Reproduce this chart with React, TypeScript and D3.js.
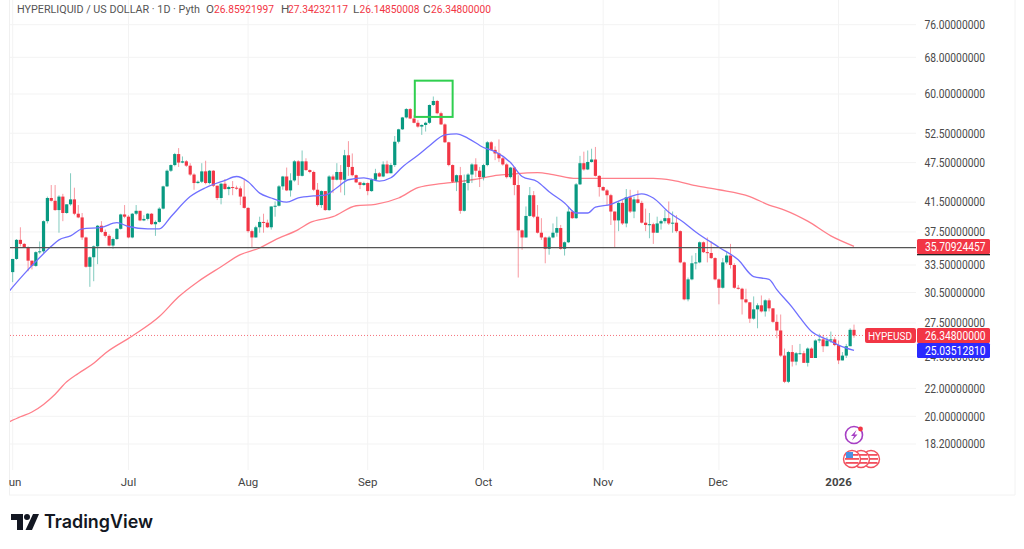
import React from "react";
import * as d3 from "d3";

const firstOpen = 32.7;
const closes = [34.2,36.5,36.0,35.6,34.0,33.4,35.0,35.1,38.9,42.1,41.7,40.4,42.3,40.0,41.2,41.9,39.9,39.4,36.8,33.3,34.4,35.7,38.3,37.5,37.0,35.8,36.6,37.9,39.8,39.5,36.8,39.9,40.3,39.0,39.2,39.9,38.5,38.8,40.6,43.8,46.2,47.1,48.9,47.5,47.7,47.0,45.6,44.3,44.5,46.1,44.3,46.2,43.9,42.1,44.2,43.4,43.7,43.6,43.5,42.3,40.7,37.6,36.8,38.1,38.8,38.7,38.1,40.9,41.0,43.8,45.3,43.2,44.7,47.7,45.4,47.7,46.3,46.0,43.3,41.1,43.1,40.4,45.3,44.8,46.0,44.8,48.7,46.8,45.5,44.4,44.0,44.3,43.1,44.8,45.8,45.3,47.2,45.8,47.1,51.0,53.2,55.4,57.0,55.2,54.4,53.7,54.0,54.4,57.8,58.6,56.2,54.1,50.9,47.1,44.5,45.5,40.3,44.3,45.6,47.2,46.2,45.2,47.1,50.9,49.6,49.0,48.2,47.2,45.2,46.7,44.0,37.7,36.8,39.6,42.5,39.5,37.4,36.8,35.4,36.8,37.4,38.0,35.4,36.2,40.2,39.3,44.1,47.4,46.4,47.6,48.0,45.4,43.7,43.2,42.5,40.2,39.0,41.4,38.6,42.2,40.2,41.9,41.4,38.7,38.4,38.5,37.4,38.6,38.9,39.3,38.6,38.7,37.6,33.8,29.8,31.9,33.7,33.8,36.2,35.0,34.9,34.3,31.9,31.0,33.8,34.6,33.5,31.0,30.9,29.8,29.5,27.9,28.8,29.2,28.6,29.7,28.9,27.6,26.8,24.6,22.5,24.9,24.1,24.8,24.8,24.0,25.2,24.4,25.9,26.0,25.4,25.9,26.0,25.5,24.2,24.6,25.4,26.86,26.348];
const highs = [34.2,36.6,38.1,36.1,35.7,34.0,35.1,36.3,39.0,42.3,44.0,44.0,42.5,42.7,41.2,45.8,43.6,41.1,40.0,36.9,34.5,35.8,38.4,38.9,37.8,37.2,36.8,38.0,39.9,41.1,39.7,40.0,41.1,40.3,39.7,40.0,40.0,39.0,40.8,43.9,46.4,47.2,49.1,49.9,48.5,47.9,47.4,45.8,44.7,47.4,47.8,46.3,46.3,43.9,44.3,44.9,43.9,44.6,43.9,43.8,44.8,40.8,37.8,38.3,39.5,39.9,39.1,40.9,41.6,44.0,45.4,46.7,45.8,47.9,47.9,49.5,48.2,46.4,46.2,44.3,43.2,43.1,45.5,45.6,47.4,47.1,49.6,51.1,49.0,45.6,44.5,44.5,44.4,45.0,46.5,46.0,47.7,47.8,47.4,52.0,53.3,55.5,57.2,57.2,55.8,54.9,54.1,54.6,57.9,59.5,58.8,56.5,54.3,51.0,47.2,45.6,46.8,45.6,45.8,47.4,48.2,46.8,47.3,51.1,51.1,50.2,51.4,48.4,47.4,46.8,46.7,45.5,37.8,40.9,43.7,43.1,41.1,39.3,36.9,37.0,38.6,39.5,38.4,36.3,40.9,40.4,44.3,48.6,49.3,49.5,49.8,50.1,45.5,43.8,43.4,42.7,40.2,41.6,41.8,43.4,43.3,42.3,43.2,41.7,40.6,40.0,38.7,39.5,39.1,40.4,41.6,40.2,39.7,37.7,33.9,32.1,34.6,34.9,36.3,36.3,36.8,36.3,34.4,32.0,34.3,35.0,36.0,33.7,31.3,31.0,30.9,29.5,30.1,29.4,30.2,29.8,29.9,28.9,28.3,28.3,25.2,25.0,25.5,24.9,25.6,25.0,25.3,25.3,26.0,26.5,26.4,26.2,26.7,26.2,25.9,24.9,25.6,27.0,27.342];
const lows = [31.6,34.1,35.7,35.5,32.8,33.0,33.3,34.8,34.9,38.6,41.6,40.3,37.4,38.9,39.9,41.0,39.7,39.3,36.5,33.2,31.1,31.7,33.6,37.4,36.8,35.7,35.4,36.5,37.8,39.3,36.7,36.7,39.7,38.9,38.9,39.0,38.4,37.0,38.7,40.5,43.7,46.0,46.9,46.8,47.4,46.8,45.4,43.3,44.2,44.3,44.1,44.1,43.7,41.8,41.2,43.3,42.5,42.5,43.3,41.1,40.6,37.4,35.6,36.8,37.4,37.4,38.0,37.8,39.5,40.9,43.3,43.1,42.3,44.5,44.0,45.3,46.2,45.8,43.1,40.9,40.7,40.3,40.3,42.8,44.7,42.9,42.5,45.4,45.3,44.3,43.4,43.9,42.5,43.0,44.7,45.2,45.2,45.7,45.8,46.8,50.7,53.1,55.2,55.1,54.3,53.5,52.2,52.8,54.2,57.6,56.0,54.0,50.8,46.9,44.3,43.1,39.9,40.2,43.2,44.3,45.2,43.7,44.7,46.9,49.5,47.9,47.6,47.0,45.0,45.0,42.5,32.1,35.3,36.8,39.5,39.3,37.3,36.5,33.7,34.7,36.7,36.9,35.3,34.6,36.1,39.2,39.2,44.0,46.2,46.3,47.5,45.3,42.3,43.1,41.1,38.4,35.6,37.6,38.4,38.1,40.0,39.3,41.3,38.6,37.6,36.7,36.0,37.4,37.8,38.6,38.4,37.4,37.4,33.7,29.7,29.6,31.8,33.0,33.7,34.9,33.8,34.2,31.8,29.3,30.9,33.6,33.1,30.9,30.8,28.3,29.4,27.5,27.8,27.0,28.5,28.1,28.6,27.5,26.1,24.5,22.4,22.4,23.7,23.8,24.7,24.0,23.7,24.4,24.4,25.7,24.9,25.4,25.7,25.4,23.9,24.2,24.4,25.4,26.15];

const blueIdx = [-1,3,6,10,12,15,18,23,27,30,35,38,41,46,50,55,58,61,64,67,69,71,74,78,81,84,87,91,95,98,101,105,108,112,115,118,122,125,129,132,136,139,143,146,149,151,155,159,163,166,170,174,177,183,188,192,196,198,202,204,207,211,214,218];
const blueVals = [30.6,32.5,33.9,35.7,36.5,37.0,37.9,38.1,38.7,38.2,37.9,37.9,39.5,42.3,43.6,44.7,45.3,44.5,42.8,42.1,41.7,41.5,42.1,42.4,42.5,43.6,44.8,45.1,44.6,45.1,46.8,48.7,50.3,52.2,52.4,51.6,50.0,49.3,47.5,45.3,44.5,43.0,41.4,40.0,40.0,40.8,41.2,42.1,42.7,42.1,40.1,38.7,37.5,35.6,34.1,32.2,31.9,30.8,29.0,28.0,26.7,26.0,25.5,25.035];
const redIdx = [-1,2,5,8,11,14,17,21,24,31,38,43,48,54,59,64,68,74,77,83,89,94,100,105,111,114,119,126,128,136,140,146,152,159,166,171,177,183,191,196,200,206,212,218];
const redVals = [19.62,19.97,20.3,20.83,21.57,22.5,23.15,23.96,24.8,26.3,28.1,30.06,31.65,33.3,34.7,35.5,36.5,37.8,38.7,39.5,41.0,41.2,42.1,43.6,44.2,44.4,44.8,45.5,45.6,45.9,45.6,45.0,45.0,45.0,45.0,44.7,43.9,43.3,42.3,41.1,40.4,38.9,37.0,35.709];

const priceTicks = [76,68,60,52.5,47.5,41.5,37.5,33.5,30.5,27.5,24.5,22,20,18.2];
const monthLabels = ["Jun","Jul","Aug","Sep","Oct","Nov","Dec","2026"];
const monthIdx = [0,30,61,92,122,153,183,214];
const levelPrice = 35.54;
const lastPrice = 26.348;
const lastMa = 25.03512810;
const lastRed = 35.70924457;
const boxIdx = [104.2, 114];
const boxPrice = [62.8, 55.5];

const UP = "#089981";
const DOWN = "#f23645";
const FONT = "Roboto, 'Noto Sans', sans-serif";
const NUM_W = 60.5;

export default function App() {
  const x = d3.scaleLinear().domain([0, 218]).range([12.67, 854]);
  const y = d3.scaleLog().domain([76, 18.2]).range([24.7, 444]);
  const line = (xs: number[], vs: number[]) =>
    d3.line<number>().x((d) => x(d)).y((_, i) => y(vs[i])).curve(d3.curveMonotoneX)(xs) as string;
  const opens = closes.map((_, i) => (i === 0 ? firstOpen : closes[i - 1]));
  const fmt = d3.format(".8f");
  const bw = 3.2;
  return (
    <svg width={1024} height={549} style={{ position: "fixed", left: 0, top: 0, background: "#fff" }} fontFamily={FONT}>
      <defs>
        <clipPath id="plot"><rect x={10} y={0} width={906} height={495} /></clipPath>
      </defs>
      <line x1={1015} x2={1015} y1={0} y2={495} stroke="#f2f2f2" />
      <line x1={9.5} x2={9.5} y1={0} y2={495} stroke="#f0f0f0" />
      <line x1={9} x2={1015} y1={495} y2={495} stroke="#f2f2f2" />
      {priceTicks.map((t) => (
        <line key={t} x1={10} x2={916} y1={y(t)} y2={y(t)} stroke="#f3f3f3" />
      ))}
      {monthIdx.map((m) => (
        <line key={m} x1={x(m)} x2={x(m)} y1={0} y2={470} stroke="#f3f3f3" />
      ))}
      <g clipPath="url(#plot)">
        <line x1={10} x2={865} y1={y(lastPrice)} y2={y(lastPrice)} stroke={DOWN} strokeOpacity={0.7} strokeDasharray="1 2" />
        <path d={line(redIdx, redVals)} fill="none" stroke="#ff7f8a" strokeWidth={1.3} />
        {closes.map((c, i) => {
          const o = opens[i];
          const col = c >= o ? UP : DOWN;
          const top = y(Math.max(o, c));
          const bot = y(Math.min(o, c));
          return (
            <g key={i}>
              <line x1={x(i)} x2={x(i)} y1={y(highs[i])} y2={y(lows[i])} stroke={col} strokeOpacity={0.5} strokeWidth={1} />
              <rect x={x(i) - bw / 2} y={top} width={bw} height={Math.max(1, bot - top)} fill={col} />
            </g>
          );
        })}
        <path d={line(blueIdx, blueVals)} fill="none" stroke="#7070ff" strokeWidth={1.3} />
        <line x1={10} x2={917} y1={y(levelPrice)} y2={y(levelPrice)} stroke="#555" strokeWidth={1.4} />
        <rect x={x(boxIdx[0])} y={y(boxPrice[0])} width={x(boxIdx[1]) - x(boxIdx[0])} height={y(boxPrice[1]) - y(boxPrice[0])} fill="none" stroke="#2fcf4f" strokeWidth={2} />
      </g>
      {priceTicks.map((t) => (
        <text key={t} x={924.5} y={y(t) + 4.3} fontSize={12} fill="#4a4a4a" textLength={NUM_W} lengthAdjust="spacingAndGlyphs">{fmt(t)}</text>
      ))}
      {monthLabels.map((m, i) => {
        const label = i === 0 ? "un" : m;
        const cx = i === 0 ? 15 : i === 6 ? 718 : x(monthIdx[i]);
        return (
          <text key={m} x={cx} y={486} fontSize={11.5} fill="#444" textAnchor="middle" fontWeight={m === "2026" ? 700 : 400}>{label}</text>
        );
      })}
      <g fontSize={11.6}>
        <text x={17} y={12.5} fill="#555" textLength={183} lengthAdjust="spacingAndGlyphs">HYPERLIQUID / US DOLLAR · 1D · Pyth</text>
        <text x={206} y={12.5} fill="#555">O</text>
        <text x={214} y={12.5} fill={DOWN} textLength={60} lengthAdjust="spacingAndGlyphs">26.85921997</text>
        <text x={281} y={12.5} fill="#555">H</text>
        <text x={288} y={12.5} fill={DOWN} textLength={60} lengthAdjust="spacingAndGlyphs">27.34232117</text>
        <text x={353} y={12.5} fill="#555">L</text>
        <text x={359.5} y={12.5} fill={DOWN} textLength={60} lengthAdjust="spacingAndGlyphs">26.14850008</text>
        <text x={423} y={12.5} fill="#555">C</text>
        <text x={431} y={12.5} fill={DOWN} textLength={60} lengthAdjust="spacingAndGlyphs">26.34800000</text>
      </g>
      <rect x={917} y={239} width={73} height={15} rx={1.5} fill={DOWN} />
      <rect x={917} y={254} width={73} height={1.3} fill="#222" />
      <text x={925} y={y(lastRed) + 4.3} fontSize={12} fill="#fff" textLength={NUM_W} lengthAdjust="spacingAndGlyphs">{fmt(lastRed)}</text>
      <rect x={865} y={328} width={51} height={15} rx={2} fill={DOWN} />
      <text x={868} y={340} fontSize={11.6} fill="#fff" textLength={44} lengthAdjust="spacingAndGlyphs">HYPEUSD</text>
      <rect x={917} y={328} width={73} height={15} rx={1.5} fill={DOWN} />
      <text x={925} y={340} fontSize={12} fill="#fff" textLength={NUM_W} lengthAdjust="spacingAndGlyphs">{fmt(lastPrice)}</text>
      <rect x={917} y={343} width={73} height={15} rx={1.5} fill="#2a2aff" />
      <text x={925} y={355} fontSize={12} fill="#fff" textLength={NUM_W} lengthAdjust="spacingAndGlyphs">{fmt(lastMa)}</text>
      <circle cx={854} cy={435} r={8.5} fill="#fff" stroke="#a63fc4" strokeWidth={1.6} />
      <path d="M856.5 430 L851 436 H854 L852 440.5 L857.5 434.5 H854.5 Z" fill="#a63fc4" />
      <circle cx={860.5} cy={429} r={2.4} fill={DOWN} />
      {[871, 861, 852].map((cx) => (
        <g key={cx}>
          <circle cx={cx} cy={459} r={8.5} fill="#fff" stroke="#f2505e" strokeWidth={1.4} />
          <rect x={cx - 6.5} y={454} width={13} height={1.8} fill="#f2505e" />
          <rect x={cx - 7} y={458} width={14} height={1.8} fill="#f2505e" />
          <rect x={cx - 6.5} y={462} width={13} height={1.8} fill="#f2505e" />
        </g>
      ))}
      <rect x={846} y={452} width={7} height={6} fill="#4a90e2" />
      <g fill="#131722">
        <path d="M11 514 H23 V530 H17 V520 H11 Z" />
        <circle cx={27} cy={517} r={3} />
        <path d="M33 514 H39 L32 530 H25.5 Z" />
      </g>
      <text x={44} y={528} fontSize={18.2} fontWeight={600} fontFamily="Inter, sans-serif" fill="#131722" textLength={109} lengthAdjust="spacingAndGlyphs">TradingView</text>
    </svg>
  );
}
